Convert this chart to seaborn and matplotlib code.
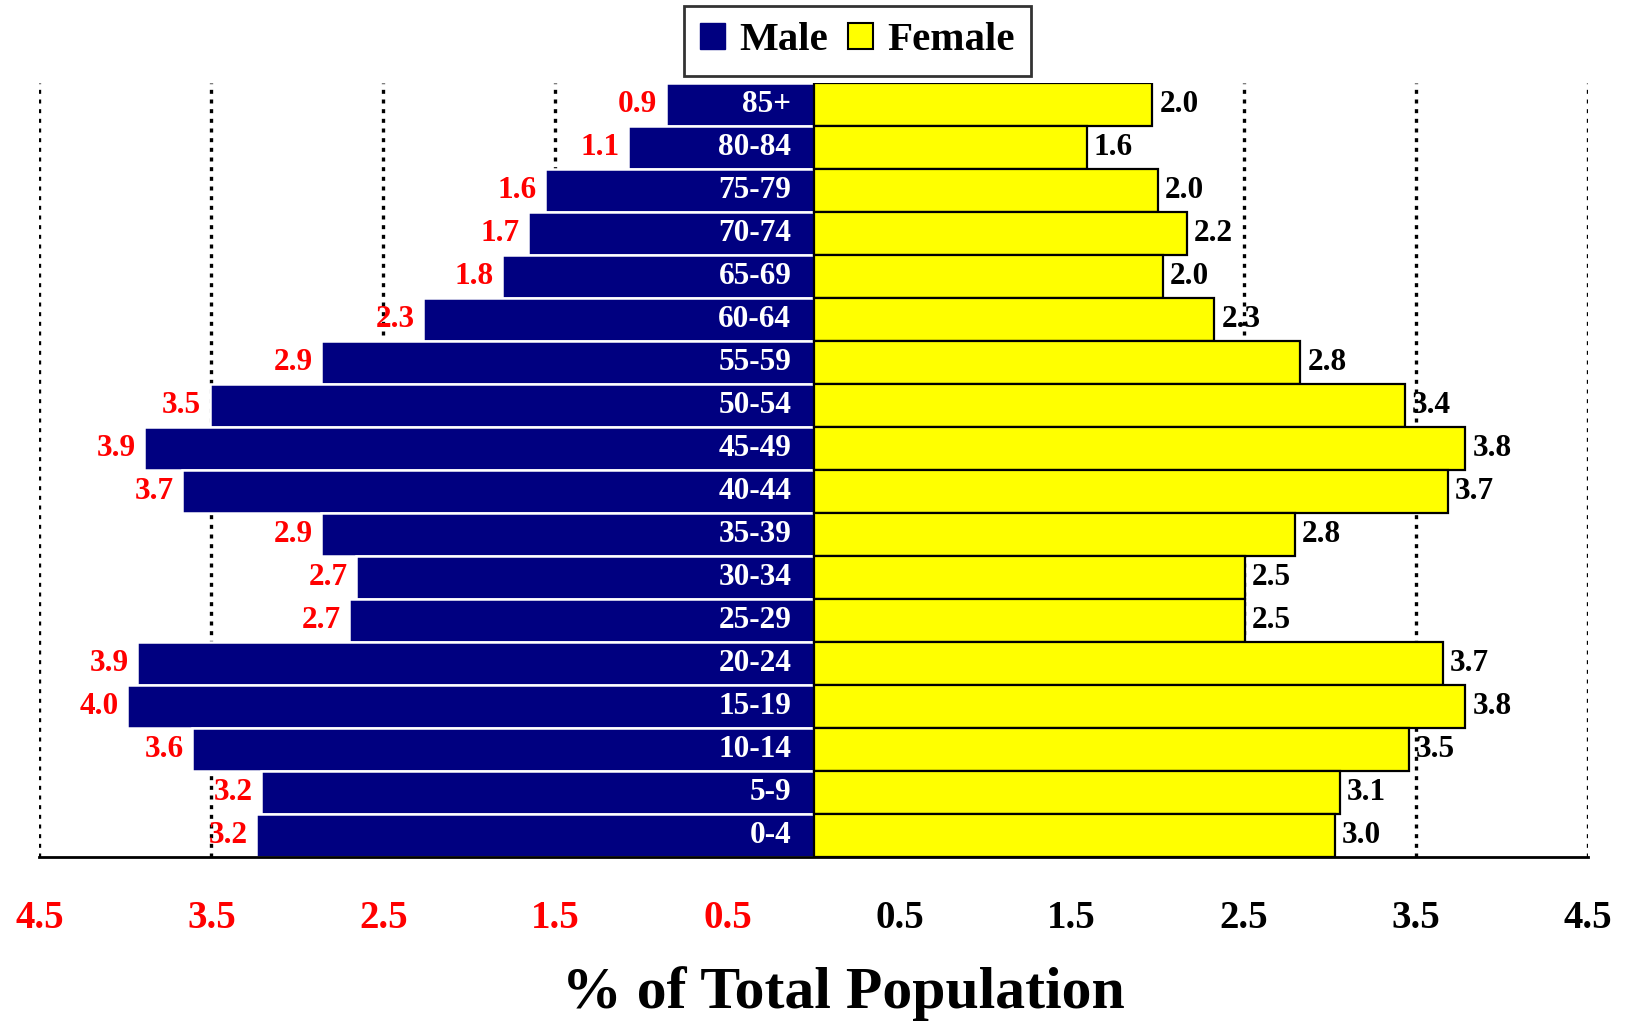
import matplotlib
matplotlib.use("Agg")
import matplotlib.pyplot as plt
from matplotlib.patches import Patch
import seaborn as sns
import pandas as pd

# Age groups, oldest at the top
ages = ["85+", "80-84", "75-79", "70-74", "65-69", "60-64", "55-59", "50-54",
        "45-49", "40-44", "35-39", "30-34", "25-29", "20-24", "15-19",
        "10-14", "5-9", "0-4"]

# Share of total population (%) by sex
male = [0.86, 1.08, 1.56, 1.66, 1.81, 2.27, 2.86, 3.51, 3.89, 3.67, 2.86,
        2.66, 2.70, 3.93, 3.99, 3.61, 3.21, 3.24]
female = [1.97, 1.59, 2.00, 2.17, 2.03, 2.33, 2.83, 3.44, 3.79, 3.69, 2.80,
          2.51, 2.51, 3.66, 3.79, 3.46, 3.06, 3.03]

tick_values = [-4.5, -3.5, -2.5, -1.5, -0.5, 0.5, 1.5, 2.5, 3.5, 4.5]

NAVY = "#000080"
YELLOW = "#FFFF00"
SERIF = ["Liberation Serif", "DejaVu Serif"]

sns.set_style("white")
plt.rcParams["font.family"] = SERIF
plt.rcParams["font.weight"] = "bold"
plt.rcParams["text.color"] = "black"
plt.rcParams["axes.labelcolor"] = "black"

df = pd.DataFrame({"age": ages,
                   "male": [-v for v in male],
                   "female": female})

fig = plt.figure(figsize=(16.27, 10.23), dpi=100)
ax = fig.add_axes([0.0242, 0.1623, 0.9516, 0.7566])

sns.barplot(data=df, x="male", y="age", order=ages, orient="h",
            color=NAVY, saturation=1, width=1.0, errorbar=None,
            edgecolor="white", linewidth=1.8, ax=ax, zorder=2)
sns.barplot(data=df, x="female", y="age", order=ages, orient="h",
            color=YELLOW, saturation=1, width=1.0, errorbar=None,
            edgecolor="black", linewidth=1.6, ax=ax, zorder=2)

ax.set_xlim(-4.5, 4.5)
ax.set_ylim(len(ages) - 0.5, -0.5)

# Dotted vertical reference lines behind the bars
ax.set_xticks(tick_values)
ax.set_axisbelow(True)
ax.grid(axis="x", color="black", linewidth=2.4, linestyle=(0, (1.2, 1.7)))
ax.grid(axis="y", visible=False)

ax.set_xticklabels([f"{abs(t):.1f}" for t in tick_values])
for lbl, t in zip(ax.get_xticklabels(), tick_values):
    lbl.set_color("red" if t < 0 else "black")
    lbl.set_fontsize(28)
    lbl.set_fontweight("bold")
ax.tick_params(axis="x", direction="out", length=10, width=2,
               color="black", pad=21)
ax.tick_params(axis="y", left=False, labelleft=False)
ax.set_ylabel("")

for side in ["top", "left", "right"]:
    ax.spines[side].set_visible(False)
ax.spines["bottom"].set_color("black")
ax.spines["bottom"].set_linewidth(2)

# Value labels at the bar ends
male_bars, female_bars = ax.containers[0], ax.containers[1]
ax.bar_label(male_bars, labels=[f"{v:.1f}" for v in male], padding=6,
             color="red", fontsize=22.5, fontweight="bold", zorder=3)
ax.bar_label(female_bars, labels=[f"{v:.1f}" for v in female], padding=5,
             color="black", fontsize=22.5, fontweight="bold", zorder=3)

# Age group names inside the male bars
for i, age in enumerate(ages):
    ax.annotate(age, xy=(0, i), xytext=(-16, 0), textcoords="offset points",
                ha="right", va="center", color="white", fontsize=22.5,
                fontweight="bold", zorder=4)

ax.set_xlabel("% of Total Population", fontsize=43, fontweight="bold",
              color="black")
ax.xaxis.set_label_coords(0.519, -0.177)
ax.xaxis.label.set_va("center")

handles = [Patch(facecolor=NAVY, edgecolor=NAVY, label="Male"),
           Patch(facecolor=YELLOW, edgecolor="black", linewidth=1.5,
                 label="Female")]
leg = fig.legend(handles=handles, loc="center", bbox_to_anchor=(0.527, 0.960),
                 ncol=2, fancybox=False, frameon=True, edgecolor="black",
                 prop={"family": SERIF, "weight": "bold", "size": 29.5},
                 handlelength=0.6, handleheight=0.6, handletextpad=0.35,
                 columnspacing=0.5, borderpad=0.4, borderaxespad=0)
leg.get_frame().set_linewidth(2)
for txt in leg.get_texts():
    txt.set_color("black")

fig.savefig("out.png", dpi=100)
